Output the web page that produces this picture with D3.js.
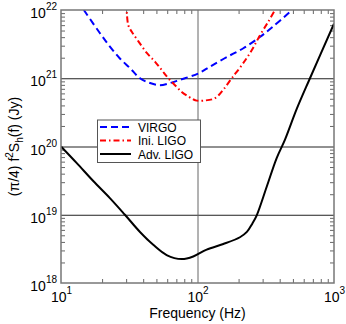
<!DOCTYPE html>
<html><head><meta charset="utf-8">
<script src="https://cdn.jsdelivr.net/npm/d3@7"></script>
<style>
body{margin:0;background:#fff;}
text{font-family:"Liberation Sans",Arial,Helvetica,sans-serif;fill:#000;}
</style></head>
<body><svg id="c" width="346" height="324"></svg>
<script>
// ---- data (frequency in Hz, value in Jy) ----
const virgoF = [14.7,19.3,22.9,27.0,32.0,37.9,44.9,53.1,62.9,74.5,100.9,123.6,163.7,216.8,288.4,358.9,476.4];
const virgoV = [1e22,4.57e21,2.88e21,1.95e21,1.41e21,1.0e21,8.5e20,7.9e20,8.5e20,9.5e20,1.17e21,1.48e21,2.04e21,2.75e21,4.07e21,5.75e21,9.44e21];
const iniF = [30.0,31.1,33.0,36.8,42.5,48.9,54.7,61.1,68.4,76.6,85.7,93.1,98.6,110.2,134.3,154.5,178.2,210.9,249.5,287.1,330.4,369.8];
const iniV = [2e22,6.0e21,4.8e21,3.5e21,2.35e21,1.74e21,1.32e21,1.0e21,7.9e20,6.3e20,5.4e20,4.9e20,4.7e20,4.7e20,5.1e20,6.8e20,1.0e21,1.55e21,2.57e21,4.27e21,6.76e21,1.0e22];
const advF = [10,13.0,17.3,22.9,29.4,37.9,47.4,59.4,76.6,93.1,116.7,154.5,204.6,230.0,252.0,271.6,321.4,380.2,437.5,533.3,666.8,1000];
const advV = [1.0e20,5.75e19,3.09e19,1.74e19,1.0e19,5.6e18,3.63e18,2.57e18,2.24e18,2.45e18,3.09e18,3.72e18,4.68e18,5.6e18,7.4e18,9.8e18,2.57e19,6.76e19,1.26e20,3.55e20,1.0e21,6.3e21];
const xDecades = [10,100,1000];
const yDecades = [1e18,1e19,1e20,1e21,1e22];
const legendLabels = ["VIRGO","Ini. LIGO","Adv. LIGO"];

const svg = d3.select("#c");
const L=61, R=334, T=10, B=283;
const x = d3.scaleLog().domain([10,1000]).range([L,R]);
const y = d3.scaleLog().domain([1e18,1e22]).range([B,T]);

const minorX = [], minorY = [];
[10,100].forEach(d=>{for(let k=2;k<=9;k++) minorX.push(d*k);});
[1e18,1e19,1e20,1e21].forEach(d=>{for(let k=2;k<=9;k++) minorY.push(d*k);});

function clean(g){g.select(".domain").remove();}
// gridlines
svg.append("g").attr("transform",`translate(${L},0)`)
  .call(d3.axisLeft(y).tickValues(yDecades.slice(1,-1)).tickSize(-(R-L)).tickFormat(""))
  .call(clean).selectAll("line").attr("stroke","#222").attr("stroke-width",1);
svg.append("g").attr("transform",`translate(0,${T})`)
  .call(d3.axisTop(x).tickValues([100]).tickSize(-(B-T)).tickFormat(""))
  .call(clean).selectAll("line").attr("stroke","#666").attr("stroke-width",1);
// minor ticks (inside)
const tk = 4, tc = "#666";
svg.append("g").attr("transform",`translate(${L},0)`).call(d3.axisLeft(y).tickValues(minorY).tickSize(-tk).tickFormat("")).call(clean).selectAll("line").attr("stroke",tc);
svg.append("g").attr("transform",`translate(${R},0)`).call(d3.axisRight(y).tickValues(minorY).tickSize(-tk).tickFormat("")).call(clean).selectAll("line").attr("stroke",tc);
svg.append("g").attr("transform",`translate(0,${B})`).call(d3.axisBottom(x).tickValues(minorX).tickSize(-tk).tickFormat("")).call(clean).selectAll("line").attr("stroke",tc);
svg.append("g").attr("transform",`translate(0,${T})`).call(d3.axisTop(x).tickValues(minorX).tickSize(-tk).tickFormat("")).call(clean).selectAll("line").attr("stroke",tc);

// clip
svg.append("clipPath").attr("id","clip").append("rect").attr("x",L).attr("y",T).attr("width",R-L).attr("height",B-T);

const line = d3.line().x(d=>x(d[0])).y(d=>y(d[1])).curve(d3.curveCatmullRom.alpha(0.5));
const zip = (a,b)=>a.map((v,i)=>[v,b[i]]);
const series = [
  {f:virgoF,v:virgoV,color:"#0000ff",dash:"7,4"},
  {f:iniF,v:iniV,color:"#ff0000",dash:"6,3,1.5,3"},
  {f:advF,v:advV,color:"#000000",dash:null}
];
const gp = svg.append("g").attr("clip-path","url(#clip)");
series.forEach(s=>{
  gp.append("path").attr("d",line(zip(s.f,s.v))).attr("fill","none")
    .attr("stroke",s.color).attr("stroke-width",2).attr("stroke-dasharray",s.dash);
});

// frame
svg.append("rect").attr("x",L).attr("y",T).attr("width",R-L).attr("height",B-T)
  .attr("fill","none").attr("stroke","#777").attr("stroke-width",1.5);

// tick labels
const yl = svg.append("g").attr("transform",`translate(${L},0)`)
  .call(d3.axisLeft(y).tickValues(yDecades).tickSize(0).tickPadding(4).tickFormat(""));
yl.call(clean);
yl.selectAll(".tick text").each(function(d){
  const t=d3.select(this).attr("dy",null).attr("y",7.5).attr("x",-4).attr("text-anchor","end").style("font-size","14px");
  t.append("tspan").text("10");
  t.append("tspan").attr("dy",-8).style("font-size","10px").text(Math.round(Math.log10(d)));
});
const xl = svg.append("g").attr("transform",`translate(0,${B})`)
  .call(d3.axisBottom(x).tickValues(xDecades).tickSize(0).tickFormat(""));
xl.call(clean);
xl.selectAll(".tick text").each(function(d){
  const t=d3.select(this).attr("dy",null).attr("y",18.5).attr("text-anchor","middle").style("font-size","14px");
  t.append("tspan").text("10");
  t.append("tspan").attr("dy",-8).style("font-size","10px").text(Math.round(Math.log10(d)));
});

// axis titles
svg.append("text").attr("x",(L+R)/2).attr("y",318).attr("text-anchor","middle").style("font-size","14px").text("Frequency (Hz)");
const yt = svg.append("text").attr("transform",`translate(19,${(T+B)/2}) rotate(-90)`).attr("text-anchor","middle").style("font-size","14px");
yt.append("tspan").text("(π/4) f");
yt.append("tspan").attr("dy",-6).style("font-size","10px").text("2");
yt.append("tspan").attr("dy",6).text("S");
yt.append("tspan").attr("dy",4).style("font-size","10px").text("h");
yt.append("tspan").attr("dy",-4).text("(f) (Jy)");

// legend
const lg = svg.append("g");
lg.append("rect").attr("x",97.5).attr("y",120).attr("width",103).attr("height",42.5).attr("fill","#fff").attr("stroke","#555").attr("stroke-width",1);
const rowY = [127,140.5,154];
series.forEach((s,i)=>{
  lg.append("line").attr("x1",100).attr("x2",131).attr("y1",rowY[i]).attr("y2",rowY[i])
    .attr("stroke",s.color).attr("stroke-width",2).attr("stroke-dasharray",s.dash);
  lg.append("text").attr("x",138).attr("y",rowY[i]+4.5).style("font-size","12px").text(legendLabels[i]);
});
</script></body></html>
